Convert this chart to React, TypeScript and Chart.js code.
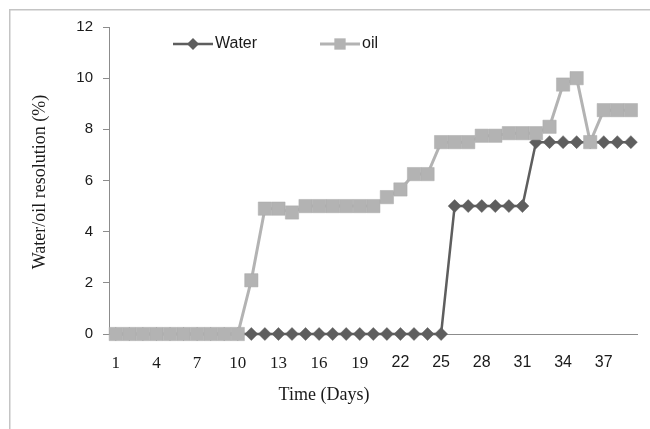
import React, { useEffect, useRef } from 'react';
import { Chart, registerables } from 'chart.js';

Chart.register(...registerables);

const days = ['1','2','3','4','5','6','7','8','9','10','11','12','13','14','15','16','17','18','19','20','21','22','23','24','25','26','27','28','29','30','31','32','33','34','35','36','37','38','39'];
const shownDays = ['1','4','7','10','13','16','19','22','25','28','31','34','37'];
const serifDays = ['1','4','7','10','13','16','19'];

const water = [0,0,0,0,0,0,0,0,0,0,0,0,0,0,0,0,0,0,0,0,0,0,0,0,0,5,5,5,5,5,5,7.5,7.5,7.5,7.5,7.5,7.5,7.5,7.5];
const oil = [0,0,0,0,0,0,0,0,0,0,2.1,4.9,4.9,4.75,5,5,5,5,5,5,5.35,5.65,6.25,6.25,7.5,7.5,7.5,7.75,7.75,7.85,7.85,7.85,8.1,9.75,10,7.5,8.75,8.75,8.75];

const seriesNames = ['Water', 'oil'];
const xTitle = 'Time (Days)';
const yTitle = 'Water/oil resolution (%)';

const WATER_COLOR = '#5e5e5e';
const OIL_COLOR = '#b3b3b3';

function drawMarker(ctx: CanvasRenderingContext2D, style: string, x: number, y: number, r: number, fill: string) {
  ctx.fillStyle = fill;
  ctx.beginPath();
  if (style === 'rectRot') {
    ctx.moveTo(x - r, y);
    ctx.lineTo(x, y - r);
    ctx.lineTo(x + r, y);
    ctx.lineTo(x, y + r);
    ctx.closePath();
  } else {
    const s = r * Math.SQRT1_2;
    ctx.rect(x - s, y - s, 2 * s, 2 * s);
  }
  ctx.fill();
}

const decorPlugin = {
  id: 'decor',
  beforeDraw(chart: any) {
    const ctx = chart.ctx as CanvasRenderingContext2D;
    ctx.save();
    ctx.strokeStyle = '#c4c4c4';
    ctx.lineWidth = 1.5;
    ctx.beginPath();
    ctx.moveTo(9.75, chart.height);
    ctx.lineTo(9.75, 9.75);
    ctx.lineTo(chart.width, 9.75);
    ctx.stroke();
    ctx.restore();
  },
  afterDraw(chart: any) {
    const ctx = chart.ctx as CanvasRenderingContext2D;
    const area = chart.chartArea;
    ctx.save();
    ctx.fillStyle = '#1a1a1a';
    ctx.textAlign = 'center';
    ctx.textBaseline = 'middle';
    ctx.font = '18px "Liberation Serif"';
    ctx.fillText(xTitle, area.left + 215, area.bottom + 61);
    ctx.save();
    ctx.translate(40, area.top + 155);
    ctx.rotate(-Math.PI / 2);
    ctx.font = '18px "Liberation Serif"';
    ctx.fillText(yTitle, 0, 0);
    ctx.restore();

    // legend
    const legendX = [173, 320];
    const legendY = 44;
    chart.data.datasets.forEach((ds: any, i: number) => {
      const x0 = legendX[i];
      ctx.strokeStyle = ds.borderColor;
      ctx.lineWidth = ds.borderWidth;
      ctx.beginPath();
      ctx.moveTo(x0, legendY);
      ctx.lineTo(x0 + 40, legendY);
      ctx.stroke();
      drawMarker(ctx, ds.pointStyle, x0 + 20, legendY, i === 0 ? 6 : 8, ds.pointBackgroundColor);
      ctx.fillStyle = '#1a1a1a';
      ctx.textAlign = 'left';
      ctx.font = '16px "Liberation Sans"';
      ctx.fillText(seriesNames[i], x0 + 42, legendY);
    });
    ctx.restore();
  },
};

export default function App() {
  const ref = useRef<HTMLCanvasElement | null>(null);

  useEffect(() => {
    if (!ref.current) return;
    const chart = new Chart(ref.current, {
      type: 'line',
      data: {
        labels: days,
        datasets: [
          {
            label: seriesNames[0],
            data: water,
            borderColor: WATER_COLOR,
            backgroundColor: WATER_COLOR,
            pointBackgroundColor: WATER_COLOR,
            pointBorderColor: WATER_COLOR,
            borderWidth: 2.5,
            pointStyle: 'rectRot',
            pointRadius: 6.5,
            pointBorderWidth: 0.5,
            tension: 0,
            order: 1,
            clip: false,
          },
          {
            label: seriesNames[1],
            data: oil,
            borderColor: OIL_COLOR,
            backgroundColor: OIL_COLOR,
            pointBackgroundColor: OIL_COLOR,
            pointBorderColor: '#aaaaaa',
            borderWidth: 3,
            pointStyle: 'rect',
            pointRadius: 9.4,
            pointBorderWidth: 0.5,
            tension: 0,
            order: 0,
            clip: false,
          },
        ],
      } as any,
      options: {
        animation: false,
        responsive: false,
        devicePixelRatio: 1,
        layout: { padding: { top: 27, right: 6, left: 0, bottom: 0 } },
        plugins: {
          legend: { display: false },
          tooltip: { enabled: false },
          title: { display: false },
        },
        scales: {
          x: {
            type: 'category',
            offset: true,
            grid: { drawOnChartArea: false, drawTicks: false },
            border: { display: true, color: '#8c8c8c', width: 1 },
            ticks: {
              autoSkip: false,
              maxRotation: 0,
              padding: 19,
              color: '#1a1a1a',
              font: (c: any) => {
                const lab = days[c.index];
                return serifDays.includes(lab)
                  ? { family: '"Liberation Serif"', size: 17 }
                  : { family: '"Liberation Sans"', size: 16 };
              },
              callback: (_v: any, i: number) => (shownDays.includes(days[i]) ? days[i] : ''),
            },
            afterFit: (s: any) => {
              s.height = 95;
            },
          },
          y: {
            min: 0,
            max: 12,
            grid: { drawOnChartArea: false, drawTicks: true, tickLength: 6, color: '#8c8c8c' },
            border: { display: true, color: '#8c8c8c', width: 1 },
            ticks: {
              stepSize: 2,
              padding: 10,
              color: '#1a1a1a',
              font: { family: '"Liberation Sans"', size: 15 },
            },
            afterFit: (s: any) => {
              s.width = 109;
            },
          },
        },
      },
      plugins: [decorPlugin],
    } as any);
    return () => chart.destroy();
  }, []);

  return (
    <div style={{ position: 'fixed', left: 0, top: 0, width: 650, height: 429, background: '#fff' }}>
      <canvas ref={ref} width={650} height={429} style={{ display: 'block', width: 650, height: 429 }} />
    </div>
  );
}
